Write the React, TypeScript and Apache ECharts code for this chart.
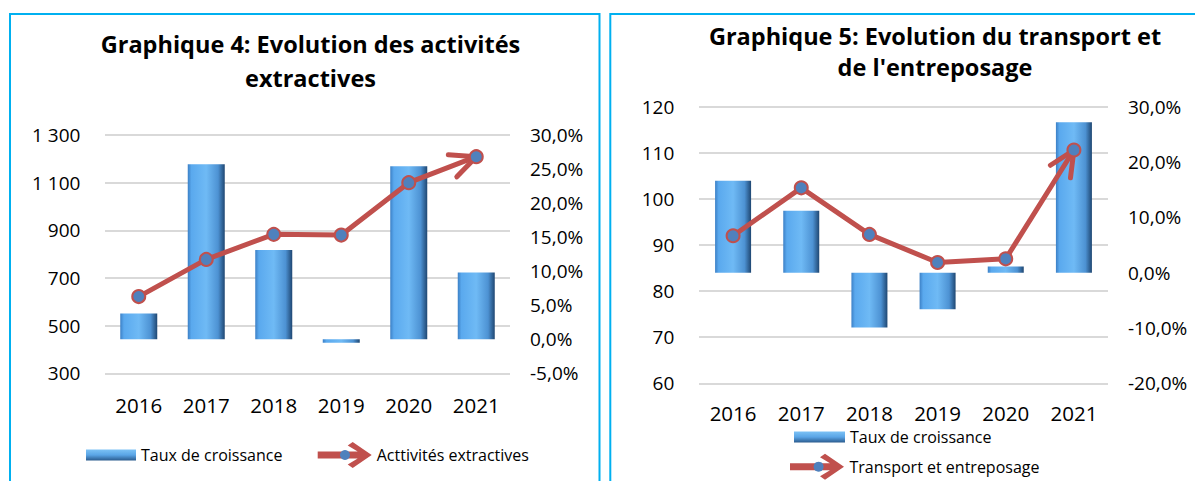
import React, { useEffect, useRef } from 'react';
import * as echarts from 'echarts';

const years = ['2016', '2017', '2018', '2019', '2020', '2021'];

// Graphique 4
const extractiveGrowth = [3.8, 25.7, 13.1, -0.5, 25.4, 9.8];
const extractiveValues = [622, 778, 883, 880, 1100, 1209];
const leftValueTicks = { min: 300, max: 1300, interval: 200 };
const leftPctTicks = { min: -5, max: 30, interval: 5 };

// Graphique 5
const transportGrowth = [16.6, 11.2, -9.9, -6.6, 1.1, 27.2];
const transportValues = [92.0, 102.4, 92.3, 86.2, 87.0, 110.6];
const rightValueTicks = { min: 60, max: 120, interval: 10 };
const rightPctTicks = { min: -20, max: 30, interval: 10 };

const growthName = 'Taux de croissance';
const extractiveName = 'Acttivités extractives';
const transportName = 'Transport et entreposage';
const title4 = 'Graphique 4: Evolution des activités\nextractives';
const title5 = "Graphique 5: Evolution du transport et\nde l'entreposage";

const FONT = '"Open Sans", "Noto Sans", sans-serif';
const RED = '#c0504d';
const BLUE_DOT = '#4f81bd';
const BORDER = '#00b0f0';

const thousands = (v: number) => String(v).replace(/\B(?=(\d{3})+(?!\d))/g, ' ');
const pct = (v: number) => v.toFixed(1).replace('.', ',') + '%';

const ARROW_ICON =
  'path://M0,9.5 L40,9.5 L30,3.5 L35,0 L54,13 L35,26 L30,22.5 L40,16.5 L0,16.5 Z';

function barGradient() {
  return new echarts.graphic.LinearGradient(0, 0, 1, 0, [
    { offset: 0, color: '#3c80c6' },
    { offset: 0.1, color: '#5aa9ee' },
    { offset: 0.5, color: '#6fbaf5' },
    { offset: 0.82, color: '#4d92d3' },
    { offset: 1, color: '#1f4772' },
  ]);
}

function legendBarGradient() {
  return new echarts.graphic.LinearGradient(0, 0, 0, 1, [
    { offset: 0, color: '#7cc2f5' },
    { offset: 0.5, color: '#5aa5e6' },
    { offset: 1, color: '#2a5b8e' },
  ]);
}

function arrowSeries(xAxisIndex: number, yAxisIndex: number, values: number[]) {
  const n = values.length;
  return {
    type: 'custom',
    xAxisIndex,
    yAxisIndex,
    silent: true,
    z: 3,
    encode: { x: [0, 2], y: [1, 3] },
    data: [[n - 2, values[n - 2], n - 1, values[n - 1]]],
    renderItem: (_params: any, api: any) => {
      const p1 = api.coord([api.value(0), api.value(1)]);
      const p2 = api.coord([api.value(2), api.value(3)]);
      const dx = p1[0] - p2[0];
      const dy = p1[1] - p2[1];
      const base = Math.atan2(dy, dx);
      const len = 28;
      const a = (25 * Math.PI) / 180;
      const armA = [p2[0] + len * Math.cos(base + a), p2[1] + len * Math.sin(base + a)];
      const armB = [p2[0] + len * Math.cos(base - a), p2[1] + len * Math.sin(base - a)];
      return {
        type: 'polyline',
        shape: { points: [armA, p2, armB] },
        style: { stroke: RED, lineWidth: 5, fill: 'none', lineCap: 'round', lineJoin: 'round' },
      };
    },
  };
}

export default function App() {
  const ref = useRef<HTMLDivElement>(null);

  useEffect(() => {
    if (!ref.current) return;
    const chart = echarts.init(ref.current, undefined, { renderer: 'svg' });

    const axisLabel = { fontFamily: FONT, fontSize: 19, color: '#000' };
    const gridLine = { show: true, lineStyle: { color: '#d9d9d9', width: 2 } };
    const lineStyleCommon = {
      type: 'line',
      symbol: 'circle',
      symbolSize: 13,
      lineStyle: { color: RED, width: 5 },
      itemStyle: { color: BLUE_DOT, borderColor: RED, borderWidth: 2 },
      z: 4,
    };

    const option: any = {
      animation: false,
      title: [
        {
          text: title4,
          left: 310.5,
          top: 26.5,
          textAlign: 'center',
          padding: 0,
          textStyle: { fontFamily: FONT, fontSize: 23.5, fontWeight: 'bold', color: '#000', lineHeight: 34.3 },
        },
        {
          text: title5,
          left: 935,
          top: 20.7,
          textAlign: 'center',
          padding: 0,
          textStyle: { fontFamily: FONT, fontSize: 23.5, fontWeight: 'bold', color: '#000', lineHeight: 30.7 },
        },
      ],
      legend: [
        {
          data: [{ name: growthName, icon: 'rect', itemStyle: { color: legendBarGradient(), borderWidth: 0 } }],
          left: 86,
          top: 445,
          padding: 0,
          itemWidth: 50,
          itemHeight: 11,
          selectedMode: false,
          textStyle: { fontFamily: FONT, fontSize: 16, color: '#000', lineHeight: 20 },
        },
        {
          data: [{ name: extractiveName, icon: ARROW_ICON, itemStyle: { color: RED, borderWidth: 0 } }],
          left: 317.7,
          top: 442,
          padding: 0,
          itemWidth: 54,
          itemHeight: 26,
          selectedMode: false,
          textStyle: { fontFamily: FONT, fontSize: 16, color: '#000', lineHeight: 20 },
        },
        {
          data: [{ name: growthName, icon: 'rect', itemStyle: { color: legendBarGradient(), borderWidth: 0 } }],
          left: 794,
          top: 427,
          padding: 0,
          itemWidth: 51,
          itemHeight: 11,
          selectedMode: false,
          textStyle: { fontFamily: FONT, fontSize: 16, color: '#000', lineHeight: 20 },
        },
        {
          data: [{ name: transportName, icon: ARROW_ICON, itemStyle: { color: RED, borderWidth: 0 } }],
          left: 790,
          top: 453.7,
          padding: 0,
          itemWidth: 55,
          itemHeight: 26,
          selectedMode: false,
          textStyle: { fontFamily: FONT, fontSize: 16, color: '#000', lineHeight: 20 },
        },
      ],
      grid: [
        { left: 105, top: 135, width: 405, height: 238.3 },
        { left: 699, top: 106.7, width: 409, height: 276.6 },
      ],
      xAxis: [
        {
          type: 'category',
          gridIndex: 0,
          data: years,
          axisLine: { show: false },
          axisTick: { show: false },
          axisLabel: { fontFamily: FONT, fontSize: 20.5, color: '#000', margin: 21 },
        },
        {
          type: 'category',
          gridIndex: 1,
          data: years,
          axisLine: { show: false },
          axisTick: { show: false },
          axisLabel: { fontFamily: FONT, fontSize: 20.5, color: '#000', margin: 19 },
        },
      ],
      yAxis: [
        {
          type: 'value',
          gridIndex: 0,
          ...leftValueTicks,
          axisLine: { show: false },
          axisTick: { show: false },
          splitLine: gridLine,
          axisLabel: { ...axisLabel, margin: 24.6, formatter: thousands },
        },
        {
          type: 'value',
          gridIndex: 0,
          position: 'right',
          ...leftPctTicks,
          axisLine: { show: false },
          axisTick: { show: false },
          splitLine: { show: false },
          axisLabel: { ...axisLabel, margin: 20, formatter: pct },
        },
        {
          type: 'value',
          gridIndex: 1,
          ...rightValueTicks,
          axisLine: { show: false },
          axisTick: { show: false },
          splitLine: gridLine,
          axisLabel: { ...axisLabel, margin: 24.7, formatter: (v: number) => String(v) },
        },
        {
          type: 'value',
          gridIndex: 1,
          position: 'right',
          ...rightPctTicks,
          axisLine: { show: false },
          axisTick: { show: false },
          splitLine: { show: false },
          axisLabel: { ...axisLabel, margin: 20, formatter: pct },
        },
      ],
      series: [
        {
          name: growthName,
          type: 'bar',
          xAxisIndex: 0,
          yAxisIndex: 1,
          barWidth: 37,
          data: extractiveGrowth,
          itemStyle: { color: barGradient() },
        },
        arrowSeries(0, 0, extractiveValues),
        { ...lineStyleCommon, name: extractiveName, xAxisIndex: 0, yAxisIndex: 0, data: extractiveValues },
        {
          name: growthName,
          type: 'bar',
          xAxisIndex: 1,
          yAxisIndex: 3,
          barWidth: 36,
          data: transportGrowth,
          itemStyle: { color: barGradient() },
        },
        arrowSeries(1, 2, transportValues),
        { ...lineStyleCommon, name: transportName, xAxisIndex: 1, yAxisIndex: 2, data: transportValues },
      ],
      graphic: [
        {
          type: 'rect',
          shape: { x: 10, y: 14, width: 589.5, height: 500 },
          style: { fill: 'none', stroke: BORDER, lineWidth: 2 },
          silent: true,
        },
        {
          type: 'rect',
          shape: { x: 610.3, y: 14, width: 600, height: 500 },
          style: { fill: 'none', stroke: BORDER, lineWidth: 2 },
          silent: true,
        },
        { type: 'circle', shape: { cx: 345, cy: 455, r: 5 }, style: { fill: BLUE_DOT }, z: 10, silent: true },
        { type: 'circle', shape: { cx: 818.6, cy: 466.7, r: 5 }, style: { fill: BLUE_DOT }, z: 10, silent: true },
      ],
    };

    chart.setOption(option);
    return () => chart.dispose();
  }, []);

  return (
    <div
      ref={ref}
      style={{ position: 'absolute', left: 0, top: 0, width: 1195, height: 481, background: '#fff' }}
    />
  );
}
